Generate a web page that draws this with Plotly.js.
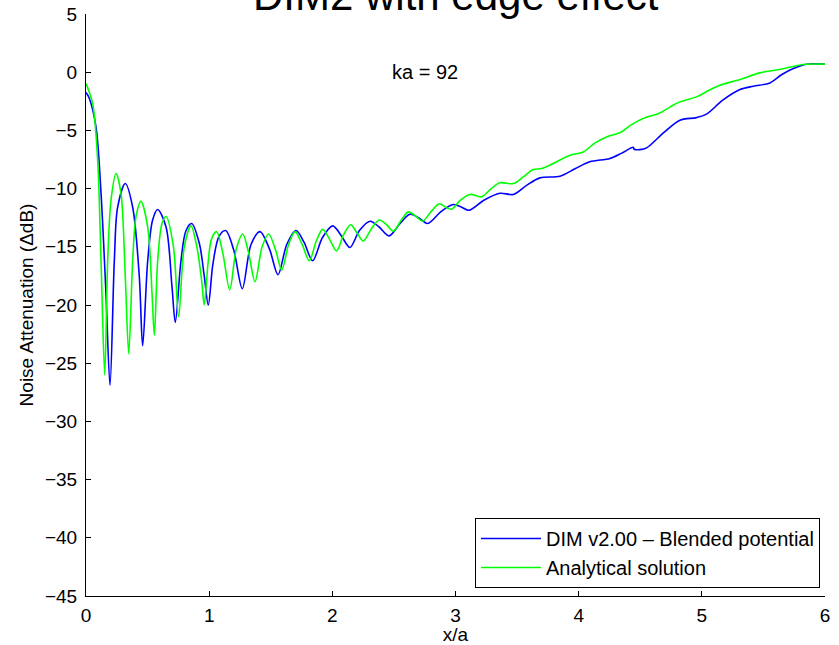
<!DOCTYPE html>
<html>
<head>
<meta charset="utf-8">
<script src="https://cdn.plot.ly/plotly-3.0.1.min.js"></script>
<style>html,body{margin:0;padding:0;background:#fff;}#chart{width:839px;height:645px;}</style>
</head>
<body>
<div id="chart"></div>
<script>
// DIM v2.00 – Blended potential (blue)
const dimX = [0, 0.025, 0.081, 0.122, 0.162, 0.195, 0.23, 0.257, 0.319, 0.379, 0.433, 0.46, 0.501, 0.541, 0.582, 0.65, 0.698, 0.725, 0.771, 0.812, 0.858, 0.92, 0.96, 0.993, 1.03, 1.08, 1.134, 1.2, 1.269, 1.34, 1.413, 1.49, 1.559, 1.63, 1.705, 1.77, 1.84, 1.92, 2.003, 2.07, 2.143, 2.22, 2.306, 2.38, 2.46, 2.55, 2.63, 2.70, 2.774, 2.88, 2.982, 3.05, 3.11, 3.23, 3.36, 3.469, 3.58, 3.686, 3.849, 3.97, 4.09, 4.254, 4.35, 4.443, 4.45, 4.498, 4.552, 4.69, 4.822, 4.957, 5.038, 5.17, 5.31, 5.418, 5.553, 5.65, 5.743, 5.851, 6];
const dimY = [-1.75, -2.2, -4.7, -10.4, -19, -26.9, -16.2, -11.6, -9.56, -11.6, -17.6, -23.5, -16.2, -12.7, -11.8, -13.3, -18.4, -21.5, -16.2, -13.6, -13.0, -14.7, -17.5, -20.0, -16.5, -14.1, -13.6, -15.3, -18.6, -14.8, -13.7, -15.2, -17.4, -14.8, -13.6, -14.6, -16.2, -14.2, -13.2, -14, -15.06, -13.6, -12.8, -13.3, -14.06, -13, -12.2, -12.5, -13.0, -12, -11.37, -11.6, -11.86, -11, -10.4, -10.5, -9.7, -9.08, -8.93, -8.3, -7.7, -7.41, -6.95, -6.45, -6.62, -6.65, -6.5, -5.2, -4.12, -3.9, -3.6, -2.4, -1.49, -1.2, -0.92, -0.2, 0.32, 0.69, 0.69];

// Analytical solution (green)
const anaX = [0, 0.054, 0.095, 0.122, 0.152, 0.176, 0.203, 0.244, 0.284, 0.319, 0.347, 0.379, 0.406, 0.446, 0.501, 0.536, 0.555, 0.582, 0.617, 0.65, 0.71, 0.752, 0.798, 0.852, 0.90, 0.94, 0.96, 0.99, 1.02, 1.061, 1.11, 1.167, 1.22, 1.272, 1.32, 1.372, 1.43, 1.483, 1.54, 1.589, 1.645, 1.697, 1.755, 1.813, 1.87, 1.922, 1.98, 2.035, 2.09, 2.149, 2.2, 2.251, 2.32, 2.381, 2.44, 2.495, 2.56, 2.617, 2.68, 2.733, 2.80, 2.868, 2.92, 2.968, 3.04, 3.117, 3.212, 3.29, 3.36, 3.469, 3.55, 3.631, 3.70, 3.80, 3.93, 4.037, 4.13, 4.226, 4.335, 4.43, 4.524, 4.659, 4.74, 4.822, 4.957, 5.05, 5.147, 5.31, 5.47, 5.63, 5.824, 6];
const anaY = [-0.97, -2.7, -7.6, -16.2, -26.0, -16.2, -11, -8.7, -10.4, -17.6, -24.2, -16.2, -12.4, -11.1, -13.3, -19.0, -22.6, -16.2, -13, -12.4, -15, -21.0, -15, -13.2, -15, -18, -20, -16.5, -14.3, -13.7, -15.5, -18.7, -15.2, -13.9, -15.5, -18.0, -15, -13.9, -15.3, -17.0, -14.8, -13.7, -14.8, -16.2, -14.5, -13.5, -14.4, -15.35, -14, -13.1, -13.8, -14.5, -13.4, -12.7, -13.1, -13.66, -12.7, -12.0, -12.4, -12.8, -12, -11.3, -11.6, -11.77, -11, -10.5, -10.7, -10, -9.5, -9.57, -9.0, -8.36, -8.28, -7.8, -7.13, -6.85, -6.1, -5.56, -5.2, -4.5, -3.98, -3.5, -3.0, -2.55, -2.12, -1.6, -1.12, -0.63, -0.06, 0.23, 0.66, 0.69];

const xTicks = [0, 1, 2, 3, 4, 5, 6];
const yTicks = [-45, -40, -35, -30, -25, -20, -15, -10, -5, 0, 5];

const FONT = 'Liberation Sans, Arial, Helvetica, sans-serif';

const traces = [
  {x: dimX, y: dimY, type: 'scatter', mode: 'lines', name: 'DIM v2.00 \u2013 Blended potential',
   line: {color: '#0000ff', width: 1.6, shape: 'spline', smoothing: 0.9}},
  {x: anaX, y: anaY, type: 'scatter', mode: 'lines', name: 'Analytical solution',
   line: {color: '#00ff00', width: 1.6, shape: 'spline', smoothing: 0.9}}
];

const layout = {
  width: 839, height: 645,
  margin: {l: 86, r: 14, t: 14, b: 49},
  paper_bgcolor: '#ffffff', plot_bgcolor: '#ffffff',
  font: {family: FONT, size: 19, color: '#000'},
  showlegend: true,
  legend: {x: 0.9932, xanchor: 'right', y: 0.0137, yanchor: 'bottom',
           bgcolor: '#ffffff', bordercolor: '#000', borderwidth: 1, itemwidth: 60,
           font: {family: FONT, size: 20, color: '#000'}, tracegroupgap: 0},
  xaxis: {range: [0, 6], tickvals: xTicks, ticks: 'inside', ticklen: 5, tickcolor: '#000',
          showline: true, linecolor: '#000', linewidth: 1, showgrid: false, zeroline: false,
          mirror: false, tickfont: {family: FONT, size: 19}, ticklabelstandoff: 2,
          title: {text: 'x/a', font: {family: FONT, size: 19}, standoff: 2}},
  yaxis: {range: [-45, 5], tickvals: yTicks, ticks: 'inside', ticklen: 5, tickcolor: '#000',
          showline: true, linecolor: '#000', linewidth: 1, showgrid: false, zeroline: false,
          mirror: false, tickfont: {family: FONT, size: 19}, ticklabelstandoff: 4,
          title: {text: 'Noise Attenuation (\u0394dB)', font: {family: FONT, size: 19}, standoff: 6}},
  annotations: [
    {text: 'DIM2 with edge effect', xref: 'paper', yref: 'paper', x: 0.5, y: 1.031,
     xanchor: 'center', yanchor: 'middle', showarrow: false, font: {family: FONT, size: 42, color: '#000'}},
    {text: 'ka = 92', xref: 'x', yref: 'y', x: 2.75, y: 0, xanchor: 'center', yanchor: 'middle',
     showarrow: false, font: {family: FONT, size: 20, color: '#000'}}
  ]
};

Plotly.newPlot('chart', traces, layout, {displayModeBar: false, staticPlot: true});
</script>
</body>
</html>
